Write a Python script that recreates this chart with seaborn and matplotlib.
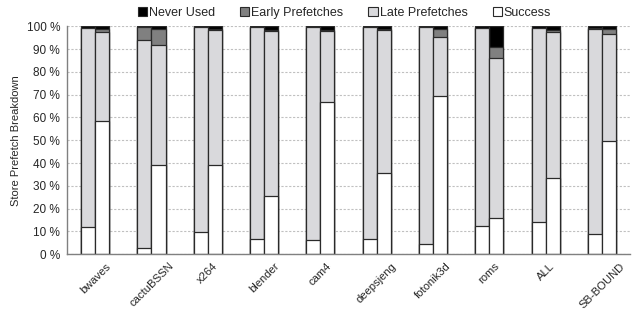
import numpy as np
import pandas as pd
import matplotlib
matplotlib.use("Agg")
import matplotlib.pyplot as plt
import seaborn as sns
from matplotlib.patches import Patch

categories = ["bwaves", "cactuBSSN", "x264", "blender", "cam4", "deepsjeng",
              "fotonik3d", "roms", "ALL", "SB-BOUND"]
# two bars per category (left, right)
success_a = [12.0, 2.5, 9.5, 6.5, 6.0, 6.5, 4.5, 12.5, 14.0, 9.0]
late_a    = [87.3, 91.5, 90.3, 93.2, 93.7, 93.3, 95.2, 87.0, 85.3, 90.0]
early_a   = [0.2, 5.8, 0.0, 0.0, 0.0, 0.0, 0.0, 0.0, 0.0, 0.3]
never_a   = [0.5, 0.2, 0.2, 0.3, 0.3, 0.2, 0.3, 0.5, 0.7, 0.7]

success_b = [58.5, 39.0, 39.0, 25.5, 67.0, 35.5, 69.5, 16.0, 33.5, 49.5]
late_b    = [39.2, 52.8, 59.4, 72.3, 30.8, 63.0, 26.0, 70.0, 64.0, 47.2]
early_b   = [1.0, 7.2, 0.3, 0.7, 0.8, 0.4, 3.5, 4.8, 1.0, 2.3]
never_b   = [1.3, 1.0, 1.3, 1.5, 1.4, 1.1, 1.0, 9.2, 1.5, 1.0]

layers = ["Success", "Late Prefetches", "Early Prefetches", "Never Used"]
colors = {"Success": "#ffffff", "Late Prefetches": "#d9d9dc",
          "Early Prefetches": "#808080", "Never Used": "#000000"}

rows = []
for i, c in enumerate(categories):
    for b, vals in (("a", (success_a, late_a, early_a, never_a)),
                    ("b", (success_b, late_b, early_b, never_b))):
        cum = 0.0
        for name, arr in zip(layers, vals):
            cum += arr[i]
            rows.append({"cat": c, "bar": b, "layer": name, "cum": cum})
df = pd.DataFrame(rows)

sns.set_style("white")
plt.rcParams["font.family"] = ["Liberation Sans", "DejaVu Sans"]

fig, ax = plt.subplots(figsize=(6.32, 3.11), dpi=100)
fig.subplots_adjust(left=0.106, right=0.997, top=0.915, bottom=0.183)

for name in reversed(layers):
    sub = df[df["layer"] == name]
    sns.barplot(data=sub, x="cat", y="cum", hue="bar", order=categories,
                hue_order=["a", "b"], palette=[colors[name]] * 2,
                width=0.5, dodge=True, edgecolor="#2a2a2a", linewidth=0.9,
                ax=ax, legend=False, errorbar=None, saturation=1)

ax.set_ylim(0, 100)
ax.set_xlim(-0.5, len(categories) - 0.5)
ax.set_yticks(np.arange(0, 101, 10))
ax.set_yticklabels([f"{v} %" for v in range(0, 101, 10)], fontsize=8.5)
ax.yaxis.grid(True, linestyle=(0, (2, 1.5)), color="#c0c0c0", linewidth=0.8)
ax.set_axisbelow(True)
ax.set_ylabel("Store Prefetch Breakdown", fontsize=8)
ax.set_xlabel("")
ax.set_xticks(range(len(categories)))
ax.set_xticklabels(categories, rotation=45, ha="center", va="top",
                   rotation_mode="default", fontsize=8.1)
ax.tick_params(axis="x", which="major", length=0, pad=5)
ax.set_xticks(np.arange(-0.5, len(categories), 1.0), minor=True)
ax.tick_params(axis="x", which="minor", length=60, width=0.8, color="#909090")
ax.tick_params(axis="y", length=3, width=0.8, color="#808080", pad=2)
for s in ["top", "right"]:
    ax.spines[s].set_visible(False)
for s in ["left", "bottom"]:
    ax.spines[s].set_color("#808080")
    ax.spines[s].set_linewidth(1.0)

handles = [Patch(facecolor=colors[n], edgecolor="#2a2a2a", linewidth=0.8, label=n)
           for n in reversed(layers)]
fig.legend(handles=handles, loc="upper center", bbox_to_anchor=(0.545, 1.015),
           ncol=4, frameon=False, fontsize=9, handlelength=0.75, handleheight=0.75,
           handletextpad=0.15, columnspacing=2.0)

fig.savefig("out.png", dpi=100)
